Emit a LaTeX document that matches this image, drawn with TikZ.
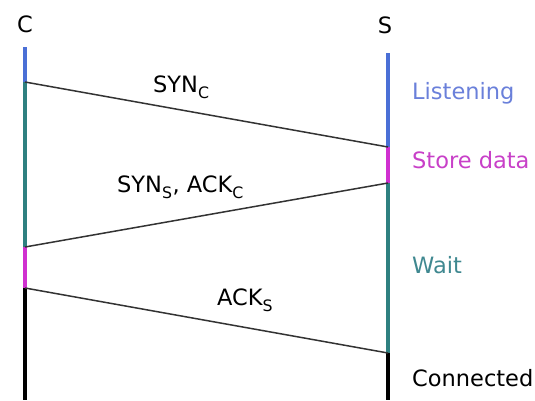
\documentclass[tikz,border=0pt]{standalone}
\usepackage{fontspec}
\setmainfont{DejaVu Sans}
\definecolor{cblue}{HTML}{4A6FD6}
\definecolor{cteal}{HTML}{2E8080}
\definecolor{cmag}{HTML}{D030D0}
\definecolor{tblue}{HTML}{6A80DA}
\definecolor{tteal}{HTML}{3F8890}
\definecolor{tmag}{HTML}{C840C8}
\newcommand{\lowsub}[1]{\raisebox{-2pt}{\textsubscript{#1}}}
\begin{document}
\begin{tikzpicture}[x=1pt,y=-1pt,
  lbl/.style={inner sep=0pt,anchor=base west,font=\fontsize{22.5}{27}\selectfont},
  head/.style={inner sep=0pt,anchor=base,font=\fontsize{22.5}{27}\selectfont},
  life/.style={line width=4.5pt},
  msg/.style={line width=1.5pt,draw=black!80}]
\useasboundingbox (0,0) rectangle (535,400);
% endpoints
\coordinate (c0) at (25,47);
\coordinate (c1) at (25,82);
\coordinate (c2) at (25,247);
\coordinate (c3) at (25,288);
\coordinate (c4) at (25,400);
\coordinate (s0) at (388,53);
\coordinate (s1) at (388,147);
\coordinate (s2) at (388,183);
\coordinate (s3) at (388,353);
\coordinate (s4) at (388,400);
% headers
\node[head] (hc) at (25,32) {C};
\node[head] (hs) at (385,33) {S};
% lifelines
\draw[life,cblue] (c0) -- (c1);
\draw[life,cteal] (c1) -- (c2);
\draw[life,cmag] (c2) -- (c3);
\draw[life,black] (c3) -- (c4);
\draw[life,cblue] (s0) -- (s1);
\draw[life,cmag] (s1) -- (s2);
\draw[life,cteal] (s2) -- (s3);
\draw[life,black] (s3) -- (s4);
% messages
\draw[msg] (c1) -- (s1);
\draw[msg] (s2) -- (c2);
\draw[msg] (c3) -- (s3);
% message labels
\node[lbl] (m1) at (153,92) {SYN\lowsub{C}};
\node[lbl] (m2) at (117,192) {SYN\lowsub{S}, ACK\lowsub{C}};
\node[lbl] (m3) at (217,305) {ACK\lowsub{S}};
% state labels
\node[lbl,text=tblue] (st1) at (412,99) {Listening};
\node[lbl,text=tmag] (st2) at (412,168) {Store data};
\node[lbl,text=tteal] (st3) at (412,273) {Wait};
\node[lbl] (st4) at (412,386) {Connected};
\end{tikzpicture}
\end{document}
